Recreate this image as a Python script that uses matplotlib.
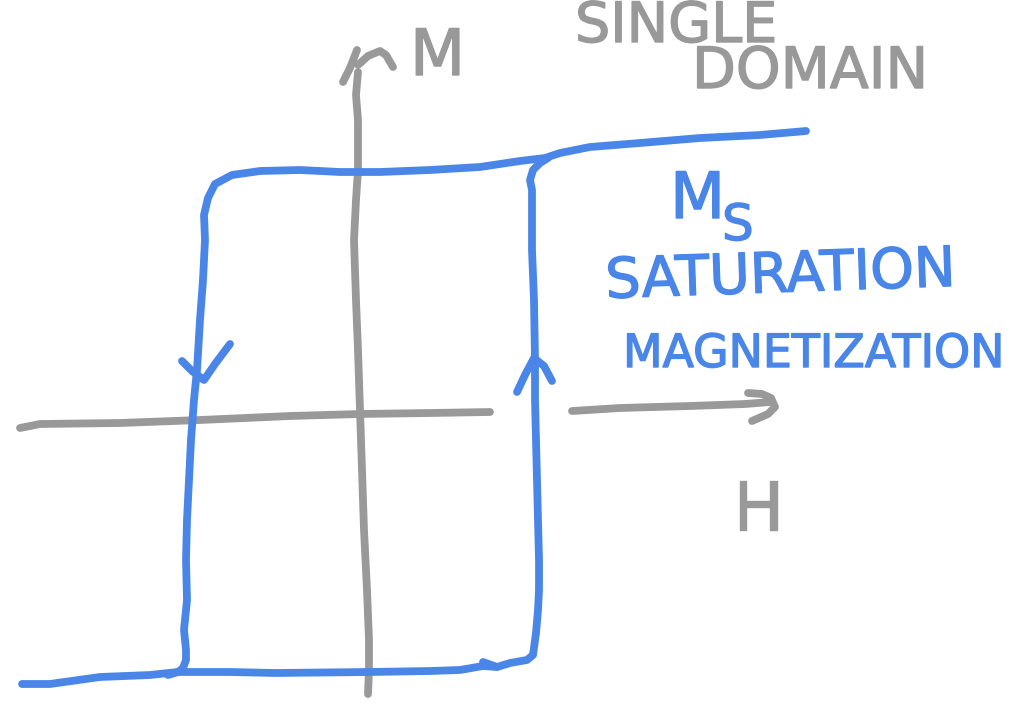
import matplotlib
matplotlib.use('Agg')
import matplotlib.pyplot as plt
import matplotlib.patheffects as pe

BLUE = '#4a86e8'
GREY = '#999999'

# hand drawn strokes in pixels
loop_top_x = [806, 760, 700, 640, 590, 560, 545, 520, 480, 430, 380, 340, 300, 260, 232, 215, 208, 204, 205, 203, 200, 197, 194, 191, 189, 187, 186, 187, 184, 186, 186, 183, 178, 168]
loop_top_y = [131, 135, 138, 143, 147, 153, 158, 161, 167, 170, 172, 172, 170, 171, 175, 184, 198, 215, 240, 280, 320, 370, 400, 440, 480, 520, 560, 600, 630, 650, 660, 668, 672, 675]
bottom_x = [22, 50, 100, 150, 178, 230, 275, 370, 430, 460, 483, 497, 510, 527, 533, 536, 538, 539, 539, 538, 537, 536, 535, 535, 534, 532, 532, 532, 530, 533, 540, 548]
bottom_y = [684, 684, 677, 675, 672, 672, 673, 672, 671, 670, 666, 667, 663, 660, 655, 633, 610, 590, 560, 520, 480, 440, 400, 360, 300, 250, 220, 190, 180, 170, 163, 158]
bottom_tick_x = [483, 497]
bottom_tick_y = [662, 667]
m_axis_x = [358, 356, 358, 358, 356, 354, 356, 358, 360, 362, 364, 367, 369, 369, 368]
m_axis_y = [72, 95, 120, 170, 200, 240, 300, 350, 410, 470, 530, 590, 640, 670, 694]
m_head_left_x = [343, 350, 357]
m_head_left_y = [82, 68, 50]
m_head_right_x = [358, 368, 380, 386, 393]
m_head_right_y = [65, 56, 51, 55, 67]
h_axis_left_x = [20, 40, 120, 200, 290, 360, 430, 490]
h_axis_left_y = [428, 424, 423, 420, 416, 414, 413, 412]
h_axis_right_x = [572, 620, 690, 745, 770]
h_axis_right_y = [411, 408, 406, 404, 402]
h_head_x = [748, 762, 771, 775, 768, 752]
h_head_y = [393, 394, 398, 407, 414, 421]
down_arrow_x = [182, 192, 204, 215, 230]
down_arrow_y = [361, 371, 380, 364, 344]
up_arrow_x = [517, 525, 534, 544, 552]
up_arrow_y = [392, 375, 358, 366, 381]

grey_strokes = [(m_axis_x, m_axis_y), (m_head_left_x, m_head_left_y), (m_head_right_x, m_head_right_y),
                (h_axis_left_x, h_axis_left_y), (h_axis_right_x, h_axis_right_y), (h_head_x, h_head_y)]
blue_strokes = [(loop_top_x, loop_top_y), (bottom_x, bottom_y), (bottom_tick_x, bottom_tick_y),
                (down_arrow_x, down_arrow_y), (up_arrow_x, up_arrow_y)]

fig = plt.figure(figsize=(10.1, 7.08), dpi=100)
ax = fig.add_axes([0, 0, 1, 1])
ax.set_xlim(0, 1010)
ax.set_ylim(708, 0)
ax.axis('off')

for x, y in grey_strokes:
    ax.plot(x, y, color=GREY, lw=5.6, solid_capstyle='round', solid_joinstyle='round')
for x, y in blue_strokes:
    ax.plot(x, y, color=BLUE, lw=5.6, solid_capstyle='round', solid_joinstyle='round')


def label(x, y, s, size, c, rot=0):
    t = ax.text(x, y, s, fontsize=size, color=c, rotation=rot, ha='left', va='baseline',
                family='DejaVu Sans', rotation_mode='anchor')
    t.set_path_effects([pe.withStroke(linewidth=1.0, foreground=c)])


label(575, 42, 'SINGLE', 40, GREY)
label(692, 88, 'DOMAIN', 41, GREY)
label(410, 75, 'M', 46, GREY)
label(670, 218, 'M', 46, BLUE)
label(722, 240, 'S', 36, BLUE)
label(606, 298, 'SATURATION', 40, BLUE, 2)
label(623, 367, 'MAGNETIZATION', 33, BLUE)
label(733, 530, 'H', 48, GREY)

plt.savefig('out.png', dpi=100)
